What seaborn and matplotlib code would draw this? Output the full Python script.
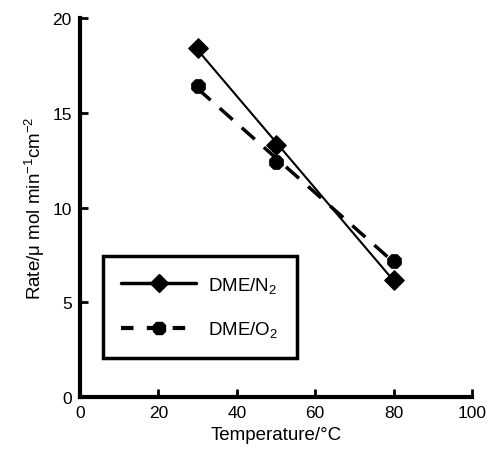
import numpy as np
import pandas as pd
import seaborn as sns
import matplotlib
matplotlib.use("Agg")
import matplotlib.pyplot as plt
from matplotlib.lines import Line2D

# Reaction rate vs temperature for DME under N2 and O2
temperature = [30, 50, 80]
rate_n2 = [18.4, 13.3, 6.2]
rate_o2 = [16.4, 12.4, 7.2]
x_ticks = [0, 20, 40, 60, 80, 100]
y_ticks = [0, 5, 10, 15, 20]

sns.set_theme(style="white", rc={
    "text.color": "black", "axes.labelcolor": "black",
    "xtick.color": "black", "ytick.color": "black",
    "axes.edgecolor": "black",
    "xtick.bottom": True, "ytick.left": True,
})
plt.rcParams["font.family"] = ["Liberation Sans", "DejaVu Sans"]
plt.rcParams["mathtext.fontset"] = "custom"
plt.rcParams["mathtext.rm"] = "Liberation Sans"
plt.rcParams["mathtext.it"] = "Liberation Sans"

df = pd.DataFrame({"T": temperature * 2,
                   "rate": rate_n2 + rate_o2,
                   "gas": ["N2"] * 3 + ["O2"] * 3})

fig = plt.figure(figsize=(4.89, 4.56), dpi=100)
ax = fig.add_axes([80 / 489, 1 - 398 / 456, (472 - 80) / 489, (398 - 19) / 456])

# Linear fits
sns.regplot(data=df[df.gas == "N2"], x="T", y="rate", ci=None, scatter=False,
            ax=ax, line_kws=dict(color="black", lw=1.5))
sns.regplot(data=df[df.gas == "O2"], x="T", y="rate", ci=None, scatter=False,
            ax=ax, line_kws=dict(color="black", lw=2.5, dashes=(5, 3.5)))

# Data points
sns.scatterplot(data=df[df.gas == "N2"], x="T", y="rate", marker="D", s=100,
                color="black", edgecolor="black", ax=ax, zorder=5)
sns.scatterplot(data=df[df.gas == "O2"], x="T", y="rate", marker="8", s=110,
                color="black", edgecolor="black", ax=ax, zorder=5)

ax.set_xlim(0, 100)
ax.set_ylim(0, 20)
ax.set_xticks(x_ticks)
ax.set_yticks(y_ticks)
ax.tick_params(direction="in", length=6, width=2, labelsize=12.5, color="black",
               labelcolor="black", pad=6, bottom=True, left=True)
for side in ("top", "right"):
    ax.spines[side].set_visible(False)
for side in ("left", "bottom"):
    ax.spines[side].set_linewidth(3)
    ax.spines[side].set_color("black")

ax.set_xlabel("Temperature/°C", fontsize=13.5, color="black")
ax.set_ylabel("Rate/μ mol min$^{-1}$cm$^{-2}$", fontsize=13.5, color="black")

handles = [
    Line2D([], [], color="black", lw=2.5, marker="D", ms=9),
    Line2D([], [], color="black", lw=3, dashes=(3, 3.2), marker="8", ms=10),
]
leg = ax.legend(handles, ["DME/N$_2$", "DME/O$_2$"], loc="lower left",
                bbox_to_anchor=(0.058, 0.103), fontsize=13.5, frameon=True,
                fancybox=False, framealpha=1, handlelength=4, handletextpad=0.6,
                labelspacing=1.3, borderpad=1.0, borderaxespad=0)
leg.get_frame().set_edgecolor("black")
leg.get_frame().set_linewidth(2.5)
for t in leg.get_texts():
    t.set_color("black")

fig.savefig("out.png", dpi=100)
